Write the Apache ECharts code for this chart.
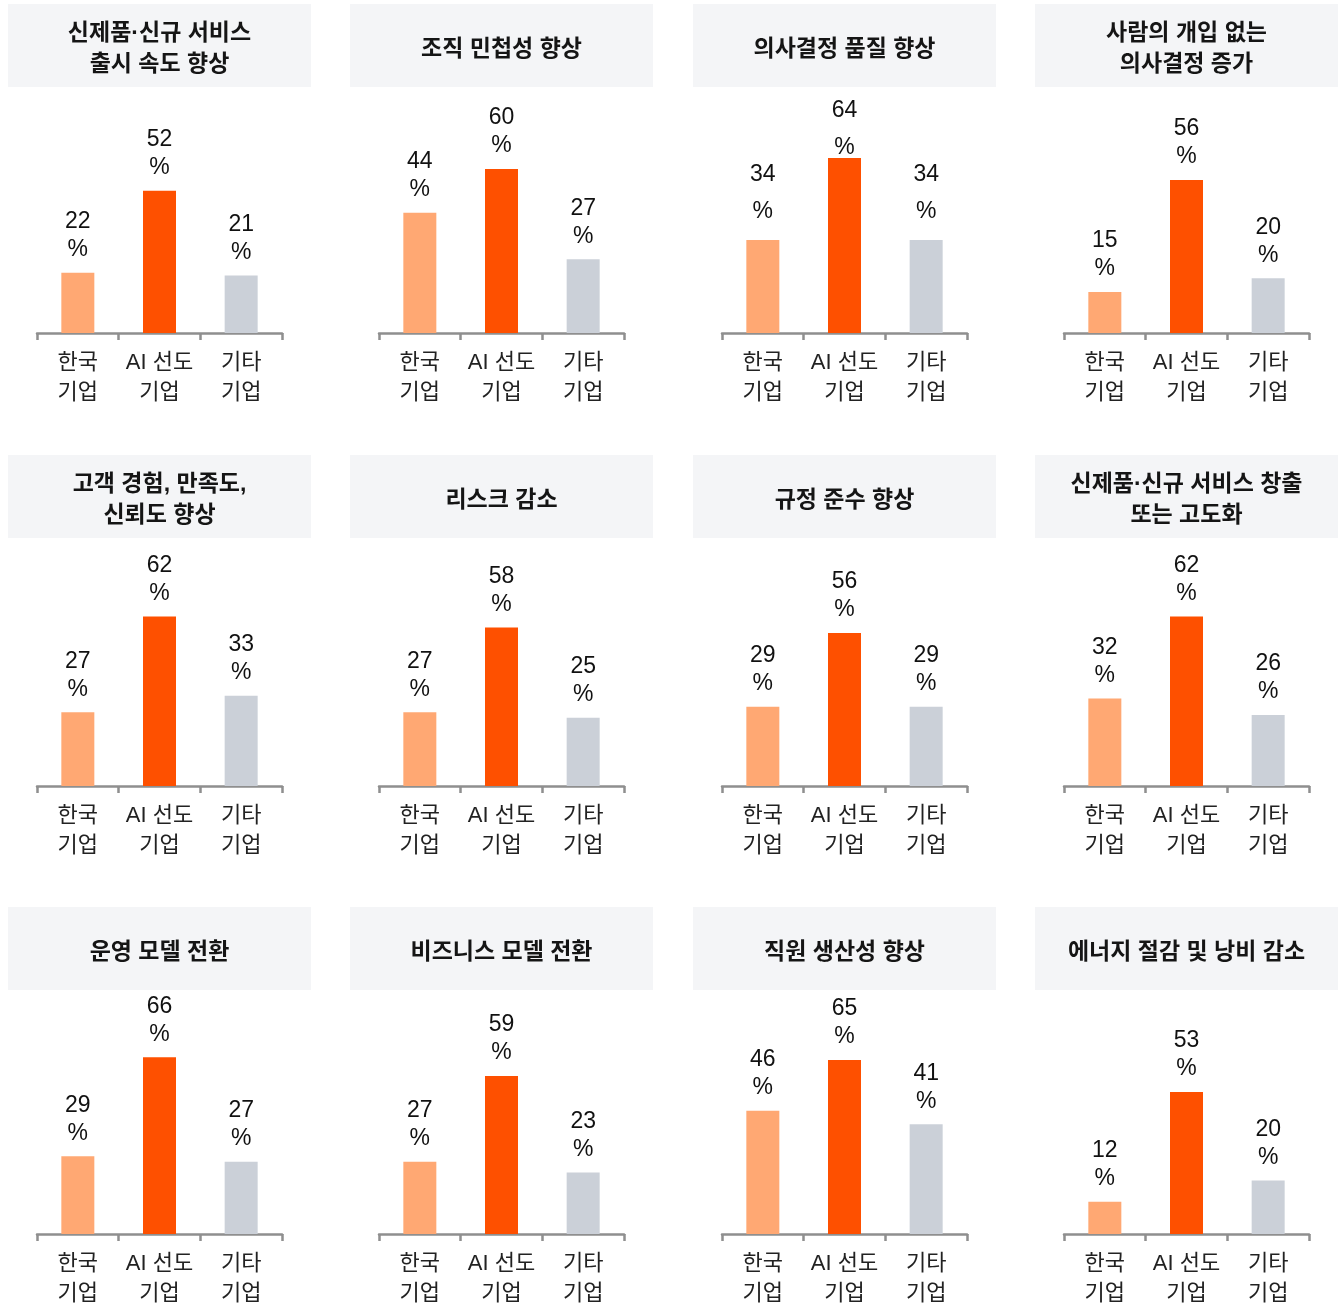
<!DOCTYPE html>
<html>
<head>
<meta charset="utf-8">
<script src="https://cdn.jsdelivr.net/npm/echarts@6/dist/echarts.min.js"></script>
<style>
  html, body { margin: 0; padding: 0; background: #fff; }
  #chart { width: 1341px; height: 1309px; }
</style>
</head>
<body>
<div id="chart"></div>
<script>
// Panel titles (row by row)
const titles = [
    "신제품·신규 서비스\n출시 속도 향상",
    "조직 민첩성 향상",
    "의사결정 품질 향상",
    "사람의 개입 없는\n의사결정 증가",
    "고객 경험, 만족도,\n신뢰도 향상",
    "리스크 감소",
    "규정 준수 향상",
    "신제품·신규 서비스 창출\n또는 고도화",
    "운영 모델 전환",
    "비즈니스 모델 전환",
    "직원 생산성 향상",
    "에너지 절감 및 낭비 감소",
];
const categories = ["한국\n기업", "AI 선도\n기업", "기타\n기업"];
// values per panel: [한국 기업, AI 선도 기업, 기타 기업]
const korea = [22, 44, 34, 15, 27, 27, 29, 32, 29, 27, 46, 12];
const leaders = [52, 60, 64, 56, 62, 58, 56, 62, 66, 59, 65, 53];
const others = [21, 27, 34, 20, 33, 25, 29, 26, 27, 23, 41, 20];

const barColors = ["#FFA873", "#FE5000", "#CBD0D8"];
const FONT = "'Liberation Sans', 'Noto Sans CJK KR', sans-serif";

const colX = [8, 350, 693, 1035];
const rowY = [4, 455, 907];
const baselines = [333, 786, 1239];
const boxW = 303, boxH = 83;

const chart = echarts.init(document.getElementById("chart"));

const grids = [], xAxes = [], yAxes = [], series = [], graphics = [];

titles.forEach((t, i) => {
    const col = i % 4, row = Math.floor(i / 4);
    const x0 = colX[col], y0 = rowY[row];
    const baseline = baselines[row];

    // title box
    graphics.push({
        type: "rect",
        shape: { x: x0, y: y0, width: boxW, height: boxH },
        style: { fill: "#F4F5F7" },
        silent: true,
    });
    graphics.push({
        type: "text",
        x: x0 + boxW / 2,
        y: y0 + boxH / 2 + 4,
        style: {
            text: t,
            fill: "#151515",
            font: "bold 23px " + FONT,
            lineHeight: 31,
            align: "center",
            verticalAlign: "middle",
        },
        silent: true,
    });

    grids.push({ left: x0 + 29, width: 245, top: baseline - 246, height: 246 });
    xAxes.push({
        type: "category",
        gridIndex: i,
        data: categories,
        axisLine: { lineStyle: { color: "#8f8f8f", width: 2.5 } },
        axisTick: { show: true, length: 7, lineStyle: { color: "#8f8f8f", width: 2.5 } },
        axisLabel: {
            interval: 0,
            hideOverlap: false,
            color: "#222",
            fontSize: 22,
            fontFamily: FONT,
            lineHeight: 30,
            margin: 15,
        },
    });
    yAxes.push({ type: "value", gridIndex: i, min: 0, max: 90, show: false });

    const wide = i === 2; // this panel's labels are spaced further apart
    series.push({
        type: "bar",
        xAxisIndex: i,
        yAxisIndex: i,
        barWidth: 33,
        data: [korea[i], leaders[i], others[i]].map((v, k) => {
            const item = { value: v, itemStyle: { color: barColors[k] } };
            if (wide) item.label = { distance: k === 1 ? -8 : 10 };
            return item;
        }),
        label: {
            show: true,
            position: "top",
            distance: 9,
            formatter: (p) => p.value + "\n%",
            color: "#111",
            fontSize: 23,
            fontFamily: FONT,
            lineHeight: wide ? 37 : 28,
        },
        silent: true,
    });
});

chart.setOption({
    animation: false,
    grid: grids,
    xAxis: xAxes,
    yAxis: yAxes,
    series: series,
    graphic: graphics,
});
</script>
</body>
</html>
